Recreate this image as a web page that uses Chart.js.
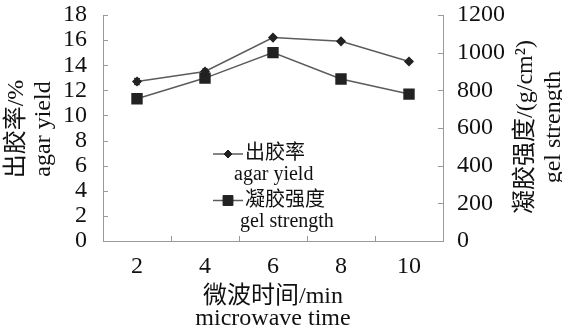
<!DOCTYPE html>
<html>
<head>
<meta charset="utf-8">
<title>微波时间</title>
<script src="https://cdn.jsdelivr.net/npm/chart.js@4.4.1/dist/chart.umd.min.js"></script>
<style>
  html, body { margin: 0; padding: 0; background: #fff; }
  #wrap { width: 562px; height: 333px; }
</style>
</head>
<body>
<div id="wrap"><canvas id="chart" width="562" height="333"></canvas></div>
<script>
// Microwave time (min) vs. agar yield (%) and gel strength (g/cm2)
const minutes = ["2", "4", "6", "8", "10"];
const agarYield = [12.7, 13.5, 16.2, 15.9, 14.3];
const agarYieldErr = [0.25, 0.2, 0, 0, 0];
const gelStrength = [755, 865, 1000, 860, 780];

const serif = "'Liberation Serif', 'Times New Roman', 'Noto Sans CJK SC', serif";
const inkColor = "#111";
const axisColor = "#999";
const lineColor = "#5c5c5c";
const markColor = "#222";

function drawLines(ctx, lines, x, y, rotation, gap) {
    ctx.save();
    ctx.translate(x, y);
    ctx.rotate(rotation);
    ctx.textAlign = "center";
    ctx.textBaseline = "middle";
    const start = -gap * (lines.length - 1) / 2;
    lines.forEach((t, i) => ctx.fillText(t, 0, start + i * gap));
    ctx.restore();
}

// fixed box size for an axis, without the label overhang padding
function fixBox(prop, size) {
    return s => {
        s[prop] = size;
        s.paddingTop = 0;
        s.paddingBottom = 0;
    };
}

// inward tick marks, error bars, axis titles and the legend inside the plot
const decorPlugin = {
    id: "decor",
    afterDatasetsDraw(chart) {
        const ctx = chart.ctx;
        const xs = chart.scales.x, ys = chart.scales.y;
        ctx.save();
        ctx.strokeStyle = markColor;
        ctx.lineWidth = 1;
        agarYield.forEach((v, i) => {
            const e = agarYieldErr[i];
            if (!e) return;
            const x = xs.getPixelForValue(i);
            const y0 = ys.getPixelForValue(v - e), y1 = ys.getPixelForValue(v + e);
            ctx.beginPath();
            ctx.moveTo(x, y0); ctx.lineTo(x, y1);
            ctx.moveTo(x - 3, y0); ctx.lineTo(x + 3, y0);
            ctx.moveTo(x - 3, y1); ctx.lineTo(x + 3, y1);
            ctx.stroke();
        });
        ctx.restore();
    },
    afterDraw(chart) {
        const ctx = chart.ctx;
        const area = chart.chartArea;
        const {x: xs, y: ys, y1: rs} = chart.scales;

        // tick marks pointing into the plot
        ctx.save();
        ctx.strokeStyle = axisColor;
        ctx.lineWidth = 1;
        ctx.beginPath();
        ys.ticks.forEach((t, i) => {
            const y = Math.round(ys.getPixelForTick(i)) + 0.5;
            ctx.moveTo(area.left, y); ctx.lineTo(area.left + 5, y);
        });
        rs.ticks.forEach((t, i) => {
            const y = Math.round(rs.getPixelForTick(i)) + 0.5;
            ctx.moveTo(area.right, y); ctx.lineTo(area.right - 5, y);
        });
        const step = (area.right - area.left) / minutes.length;
        for (let i = 1; i < minutes.length; i++) {
            const x = Math.round(area.left + i * step) + 0.5;
            ctx.moveTo(x, area.bottom); ctx.lineTo(x, area.bottom - 5);
        }
        ctx.stroke();

        // axis titles
        ctx.fillStyle = inkColor;
        ctx.font = "24px " + serif;
        drawLines(ctx, ["出胶率/%", "agar yield"], 30, 129, -Math.PI / 2, 27);
        drawLines(ctx, ["凝胶强度/(g/cm²)", "gel strength"], 540, 127, -Math.PI / 2, 28);
        drawLines(ctx, ["微波时间/min", "microwave time"], (area.left + area.right) / 2, 308, 0, 22);

        // legend
        const items = [
            {ds: chart.data.datasets[0], cn: "出胶率", en: "agar yield", y: 154, enX: 234},
            {ds: chart.data.datasets[1], cn: "凝胶强度", en: "gel strength", y: 200.5, enX: 240}
        ];
        ctx.font = "20px " + serif;
        ctx.textBaseline = "middle";
        ctx.textAlign = "left";
        items.forEach(it => {
            ctx.strokeStyle = lineColor;
            ctx.lineWidth = 1.5;
            ctx.beginPath();
            ctx.moveTo(213, it.y); ctx.lineTo(243, it.y);
            ctx.stroke();
            ctx.fillStyle = markColor;
            ctx.strokeStyle = markColor;
            ctx.lineWidth = 1;
            Chart.helpers.drawPoint(ctx, {
                pointStyle: it.ds.pointStyle,
                radius: it.ds.pointRadius,
                rotation: 0,
                borderWidth: 1
            }, 228, it.y);
            ctx.fillStyle = inkColor;
            ctx.fillText(it.cn, 245, it.y);
            ctx.fillText(it.en, it.enX, it.y + 21);
        });
        ctx.restore();
    }
};

const tickFont = {family: serif, size: 24};
const noGrid = {display: false, drawTicks: false};
const axisBorder = {display: true, color: axisColor, width: 1};

new Chart(document.getElementById("chart"), {
    type: "line",
    data: {
        labels: minutes,
        datasets: [{
            label: "出胶率",
            data: agarYield,
            yAxisID: "y",
            borderColor: lineColor,
            borderWidth: 1.5,
            pointStyle: "rectRot",
            pointRadius: 4,
            pointBackgroundColor: markColor,
            pointBorderColor: markColor,
            tension: 0
        }, {
            label: "凝胶强度",
            data: gelStrength,
            yAxisID: "y1",
            borderColor: lineColor,
            borderWidth: 1.5,
            pointStyle: "rect",
            pointRadius: 7,
            pointBackgroundColor: markColor,
            pointBorderColor: markColor,
            tension: 0
        }]
    },
    options: {
        responsive: false,
        animation: false,
        layout: {padding: {top: 15, left: 0, right: 0, bottom: 0}},
        plugins: {
            legend: {display: false},
            tooltip: {enabled: false}
        },
        scales: {
            x: {
                offset: true,
                grid: noGrid,
                border: axisBorder,
                ticks: {font: tickFont, color: inkColor, padding: 11, maxRotation: 0},
                afterFit: fixBox("height", 92)
            },
            y: {
                position: "left",
                min: 0,
                max: 18,
                grid: noGrid,
                border: axisBorder,
                ticks: {stepSize: 2, autoSkip: false, font: tickFont, color: inkColor, padding: 16},
                afterFit: fixBox("width", 103)
            },
            y1: {
                position: "right",
                min: 0,
                max: 1200,
                grid: noGrid,
                border: axisBorder,
                ticks: {
                    stepSize: 200, autoSkip: false, font: tickFont, color: inkColor, padding: 14,
                    callback: v => String(v)
                },
                afterFit: fixBox("width", 119)
            }
        }
    },
    plugins: [decorPlugin]
});
</script>
</body>
</html>
